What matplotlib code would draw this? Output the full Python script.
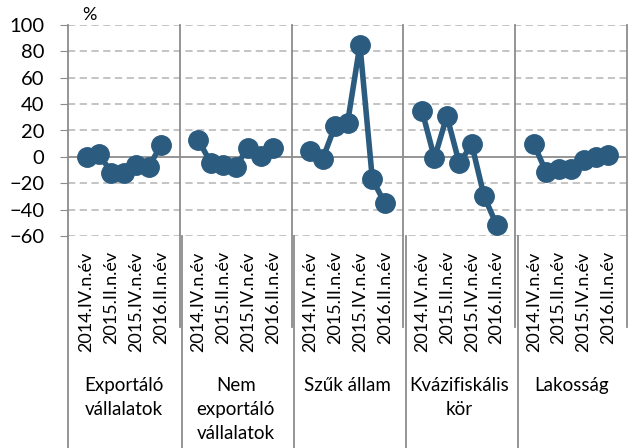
import numpy as np
import matplotlib.pyplot as plt
import matplotlib.transforms as mtransforms

plt.rcParams['font.family'] = ['Lato', 'DejaVu Sans']

groups = ["Exportáló\nvállalatok", "Nem\nexportáló\nvállalatok", "Szűk állam",
          "Kvázifiskális\nkör", "Lakosság"]
periods = ["2014.IV.n.év", "2015.I.n.év", "2015.II.n.év", "2015.III.n.év",
           "2015.IV.n.év", "2016.I.n.év", "2016.II.n.év"]

exportalo = [0, 2, -12, -12, -6, -7.5, 9]
nem_exportalo = [12.5, -4.5, -6.5, -7.5, 7, 0.5, 7]
szuk_allam = [4.5, -1.5, 23.5, 25.5, 85, -17, -35]
kvazifiskalis = [35, -1, 31, -5, 9.5, -30, -51.5]
lakossag = [9.5, -11.5, -9.5, -9.5, -2, 0, 1.5]

series = [exportalo, nem_exportalo, szuk_allam, kvazifiskalis, lakossag]

color = '#2B5C80'
grid_c = '#BFBFBF'
axis_c = '#8C8C8C'
slot = 9  # blank + 7 periods + blank per group

fig = plt.figure(figsize=(6.28, 4.48), dpi=100)
ax = fig.add_axes([68 / 628, 1 - 236 / 448, 559 / 628, 211 / 448])

for g, vals in enumerate(series):
    x = np.arange(len(vals)) + g * slot + 1
    ax.plot(x, vals, color=color, lw=4, marker='o', ms=14,
            solid_joinstyle='round', zorder=3)

ax.set_xlim(-0.5, len(groups) * slot - 0.5)
ax.set_ylim(-60, 100)
ax.set_yticks(range(-60, 101, 20))
ax.tick_params(axis='y', labelsize=14.5, length=6, color=axis_c, pad=11)
for t in ax.get_yticks():
    if t != 0:
        ax.axhline(t, color=grid_c, lw=1.3, ls=(0, (4, 2.5)), zorder=1)
ax.axhline(0, color=axis_c, lw=1.3, zorder=2)

ticks = []
labels = []
for g in range(len(groups)):
    for i in range(0, len(periods), 2):
        ticks.append(g * slot + 1 + i)
        labels.append(periods[i])
ax.set_xticks(ticks)
ax.set_xticklabels(labels, rotation=90, fontsize=13)
ax.tick_params(axis='x', length=0, pad=11)

for s in ['top', 'right', 'bottom']:
    ax.spines[s].set_visible(False)
ax.spines['left'].set_color(axis_c)
ax.spines['left'].set_linewidth(1.3)
ax.spines['left'].set_bounds(-60, 100)

trans = mtransforms.blended_transform_factory(ax.transData, ax.transAxes)
ax.plot([-0.5, -0.5], [0, -1.01], color=axis_c, lw=1.3, transform=trans,
        clip_on=False)
for g in range(1, len(groups) + 1):
    b = g * slot - 0.5
    ax.plot([b, b], [1, -0.43], color=axis_c, lw=1.3, transform=trans,
            clip_on=False)
    if g < len(groups):
        ax.plot([b + 0.2, b + 0.2], [0, -1.01], color=axis_c, lw=1.3,
                transform=trans, clip_on=False)

for g, name in enumerate(groups):
    ax.text(g * slot + 4, -0.67, name, transform=trans, ha='center', va='top',
            fontsize=13.5, linespacing=1.5)

ax.text(1.2, 1.01, '%', transform=trans, ha='center', va='bottom', fontsize=13)

fig.savefig('out.png', dpi=100)
